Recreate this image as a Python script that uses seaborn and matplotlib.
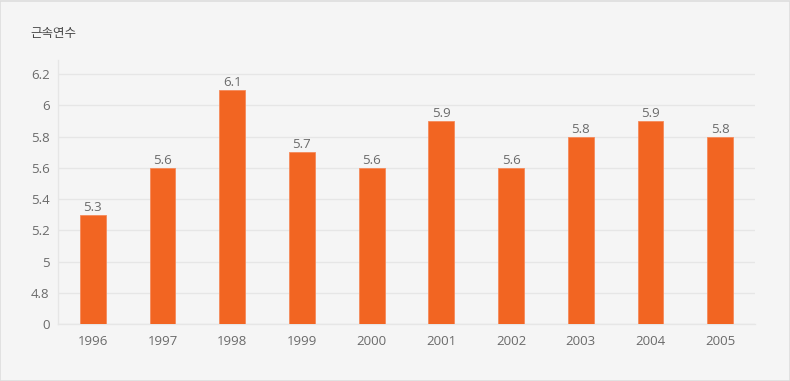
import matplotlib
matplotlib.use("Agg")
import matplotlib.pyplot as plt
import seaborn as sns
import pandas as pd
from matplotlib.patches import Rectangle

years = ["1996", "1997", "1998", "1999", "2000", "2001", "2002", "2003", "2004", "2005"]
values = [5.3, 5.6, 6.1, 5.7, 5.6, 5.9, 5.6, 5.8, 5.9, 5.8]
ytick_vals = [4.6, 4.8, 5.0, 5.2, 5.4, 5.6, 5.8, 6.0, 6.2]
ytick_labels = ["0", "4.8", "5", "5.2", "5.4", "5.6", "5.8", "6", "6.2"]
title = "근속연수"

sns.set_theme(style="white")
plt.rcParams["font.family"] = ["Open Sans", "Noto Sans CJK KR", "DejaVu Sans"]

bg = "#f5f5f5"
bar_color = "#f26522"
text_color = "#6a6a6a"

fig = plt.figure(figsize=(7.9, 3.81), dpi=100, facecolor=bg)
ax = fig.add_axes([58/790, 1-324/381, (755-58)/790, (324-60)/381])
ax.set_facecolor(bg)

df = pd.DataFrame({"year": years, "value": values})
base = 4.6
sns.barplot(data=df, x="year", y="value", color=bar_color, saturation=1,
            width=0.37, ax=ax, zorder=3)
for p in ax.patches:
    h = p.get_height()
    p.set_y(base)
    p.set_height(h - base)
    p.set_edgecolor("#f58a5a")
    p.set_linewidth(0.6)

for i, v in enumerate(values):
    ax.text(i, v + 0.005, f"{v:g}", ha="center", va="bottom", fontsize=9.5,
            color=text_color, zorder=4)

ax.set_ylim(base, 6.29)
ax.set_xlim(-0.5, len(years) - 0.5)
ax.set_yticks(ytick_vals)
ax.set_yticklabels(ytick_labels)
ax.yaxis.grid(True, color="#e6e6e6", linewidth=1, zorder=0)
ax.set_axisbelow(True)
ax.tick_params(axis="both", length=0, labelsize=9.5, colors=text_color)
ax.tick_params(axis="y", pad=6)
ax.tick_params(axis="x", pad=8)
ax.set_xlabel("")
ax.set_ylabel("")
for s in ["top", "right"]:
    ax.spines[s].set_visible(False)
ax.spines["left"].set_color("#e6e6e6")
ax.spines["bottom"].set_color("#e6e6e6")
ax.spines["left"].set_linewidth(1)
ax.spines["bottom"].set_linewidth(1)

fig.text(30/790, 1-33/381, title, fontsize=9, color="#444444", va="center", ha="left",
         family=["Noto Sans CJK KR", "DejaVu Sans"])
fig.patches.append(Rectangle((0.0006, 0.001), 0.9988, 0.997, transform=fig.transFigure,
                             fill=False, edgecolor="#dddddd", linewidth=1.2))

fig.savefig("out.png", dpi=100, facecolor=bg)
